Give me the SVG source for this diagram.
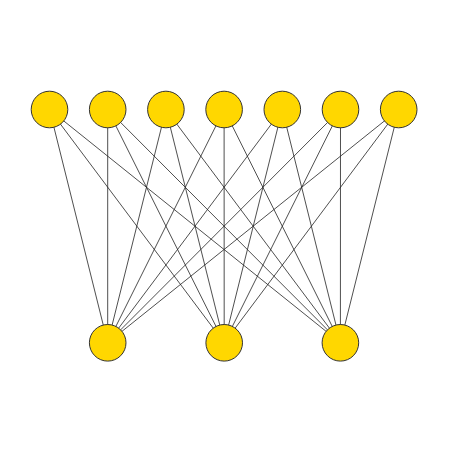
<svg xmlns="http://www.w3.org/2000/svg" width="450" height="450" viewBox="0 0 450 450">
<style>
.n{fill:#FFD700;stroke:#333;stroke-width:1}
.e{stroke:#222;stroke-width:0.8;fill:none}
</style>
<rect width="450" height="450" fill="#fff"/>
<g id="edges" class="e">
<line x1="49.5" y1="109.5" x2="107.7" y2="342.8"/><line x1="49.5" y1="109.5" x2="224.2" y2="342.8"/><line x1="49.5" y1="109.5" x2="340.4" y2="342.8"/>
<line x1="107.7" y1="109.5" x2="107.7" y2="342.8"/><line x1="107.7" y1="109.5" x2="224.2" y2="342.8"/><line x1="107.7" y1="109.5" x2="340.4" y2="342.8"/>
<line x1="165.9" y1="109.5" x2="107.7" y2="342.8"/><line x1="165.9" y1="109.5" x2="224.2" y2="342.8"/><line x1="165.9" y1="109.5" x2="340.4" y2="342.8"/>
<line x1="224.1" y1="109.5" x2="107.7" y2="342.8"/><line x1="224.1" y1="109.5" x2="224.2" y2="342.8"/><line x1="224.1" y1="109.5" x2="340.4" y2="342.8"/>
<line x1="282.3" y1="109.5" x2="107.7" y2="342.8"/><line x1="282.3" y1="109.5" x2="224.2" y2="342.8"/><line x1="282.3" y1="109.5" x2="340.4" y2="342.8"/>
<line x1="340.5" y1="109.5" x2="107.7" y2="342.8"/><line x1="340.5" y1="109.5" x2="224.2" y2="342.8"/><line x1="340.5" y1="109.5" x2="340.4" y2="342.8"/>
<line x1="398.7" y1="109.5" x2="107.7" y2="342.8"/><line x1="398.7" y1="109.5" x2="224.2" y2="342.8"/><line x1="398.7" y1="109.5" x2="340.4" y2="342.8"/>
</g>
<g id="t1"><circle class="n" cx="49.5" cy="109.5" r="18.3"/></g>
<g id="t2"><circle class="n" cx="107.7" cy="109.5" r="18.3"/></g>
<g id="t3"><circle class="n" cx="165.9" cy="109.5" r="18.3"/></g>
<g id="t4"><circle class="n" cx="224.1" cy="109.5" r="18.3"/></g>
<g id="t5"><circle class="n" cx="282.3" cy="109.5" r="18.3"/></g>
<g id="t6"><circle class="n" cx="340.5" cy="109.5" r="18.3"/></g>
<g id="t7"><circle class="n" cx="398.7" cy="109.5" r="18.3"/></g>
<g id="b1"><circle class="n" cx="107.7" cy="342.8" r="18.3"/></g>
<g id="b2"><circle class="n" cx="224.2" cy="342.8" r="18.3"/></g>
<g id="b3"><circle class="n" cx="340.4" cy="342.8" r="18.3"/></g>
</svg>
